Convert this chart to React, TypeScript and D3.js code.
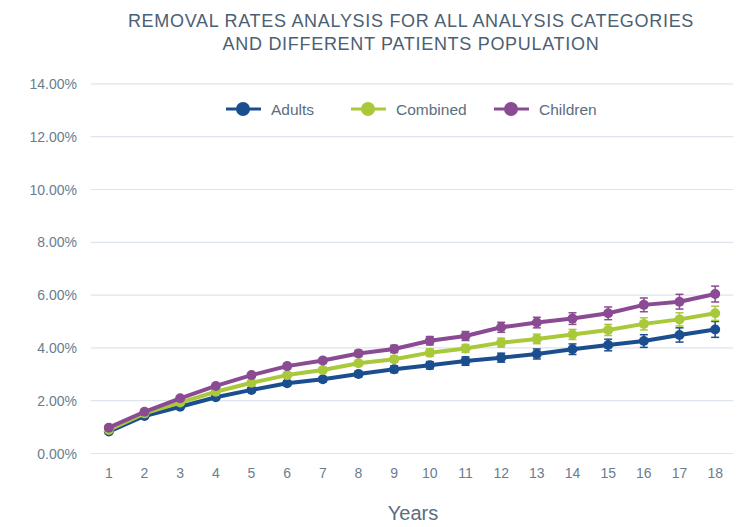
import React from "react";
import * as d3 from "d3";

const years = ["1","2","3","4","5","6","7","8","9","10","11","12","13","14","15","16","17","18"];
const adults = [0.83,1.42,1.77,2.13,2.41,2.66,2.81,3.01,3.19,3.34,3.50,3.63,3.77,3.95,4.11,4.26,4.49,4.70];
const combined = [0.89,1.52,1.93,2.34,2.68,2.97,3.16,3.42,3.57,3.82,3.98,4.20,4.34,4.51,4.68,4.91,5.08,5.31];
const children = [0.98,1.58,2.09,2.56,2.97,3.31,3.52,3.79,3.96,4.27,4.45,4.78,4.96,5.11,5.31,5.63,5.75,6.04];
const adultsErr = [0.02,0.04,0.05,0.06,0.07,0.09,0.1,0.11,0.13,0.14,0.16,0.17,0.19,0.2,0.22,0.24,0.27,0.3];
const combinedErr = [0.02,0.04,0.05,0.06,0.07,0.09,0.1,0.11,0.12,0.14,0.15,0.17,0.18,0.19,0.21,0.23,0.25,0.27];
const childrenErr = [0.02,0.04,0.05,0.06,0.08,0.1,0.11,0.12,0.14,0.16,0.17,0.19,0.2,0.22,0.24,0.26,0.28,0.3];
const yTicks = [0,2,4,6,8,10,12,14];
const seriesNames = ["Adults","Combined","Children"];
const seriesColors = ["#1b4e8f","#a9c93b","#8a4b93"];

const W = 748, H = 527;
const font = "'Liberation Sans', Arial, sans-serif";

export default function App() {
  const x = d3.scalePoint<string>().domain(years).range([91, 733]).padding(0.5);
  const y = d3.scaleLinear().domain([0, 14]).range([453.5, 83.9]);
  const values = [adults, combined, children];
  const errs = [adultsErr, combinedErr, childrenErr];
  const line = d3.line<number>().x((_, i) => x(years[i])!).y(d => y(d));
  const legendX = [243, 368, 511];

  return (
    <svg width={W} height={H} style={{ position: "absolute", left: 0, top: 0, background: "#fff" }}>
      <text x={411} y={26.5} textAnchor="middle" fontFamily={font} fontSize={18} letterSpacing={0.7} fill="#4b6072">REMOVAL RATES ANALYSIS FOR ALL ANALYSIS CATEGORIES</text>
      <text x={411} y={50} textAnchor="middle" fontFamily={font} fontSize={18} letterSpacing={0.7} fill="#4b6072">AND DIFFERENT PATIENTS POPULATION</text>
      {yTicks.map(t => (
        <g key={t}>
          <line x1={91} x2={733} y1={y(t)} y2={y(t)} stroke="#dde4ec" strokeWidth={1.2} />
          <text x={77} y={y(t) + 5} textAnchor="end" fontFamily={font} fontSize={14} fill="#6a7d8f">{t.toFixed(2)}%</text>
        </g>
      ))}
      {years.map(yr => (
        <text key={yr} x={x(yr)} y={478} textAnchor="middle" fontFamily={font} fontSize={14} fill="#6a7d8f">{yr}</text>
      ))}
      <text x={413} y={520} textAnchor="middle" fontFamily={font} fontSize={20} fill="#5b6e80">Years</text>
      {values.map((vals, s) => (
        <g key={s}>
          <path d={line(vals)!} fill="none" stroke={seriesColors[s]} strokeWidth={4} strokeLinejoin="round" />
          {vals.map((v, i) => {
            const cx = x(years[i])!;
            const e = errs[s][i];
            return (
              <g key={i}>
                <line x1={cx} x2={cx} y1={y(v - e)} y2={y(v + e)} stroke={seriesColors[s]} strokeWidth={1.5} />
                <line x1={cx - 4} x2={cx + 4} y1={y(v - e)} y2={y(v - e)} stroke={seriesColors[s]} strokeWidth={1.5} />
                <line x1={cx - 4} x2={cx + 4} y1={y(v + e)} y2={y(v + e)} stroke={seriesColors[s]} strokeWidth={1.5} />
                <circle cx={cx} cy={y(v)} r={5} fill={seriesColors[s]} />
              </g>
            );
          })}
        </g>
      ))}
      {seriesNames.map((n, s) => (
        <g key={n}>
          <line x1={legendX[s] - 17} x2={legendX[s] + 18} y1={109} y2={109} stroke={seriesColors[s]} strokeWidth={3} />
          <circle cx={legendX[s]} cy={109} r={7} fill={seriesColors[s]} />
          <text x={legendX[s] + 28} y={114.5} fontFamily={font} fontSize={15.5} fill="#5b6e80">{n}</text>
        </g>
      ))}
    </svg>
  );
}
